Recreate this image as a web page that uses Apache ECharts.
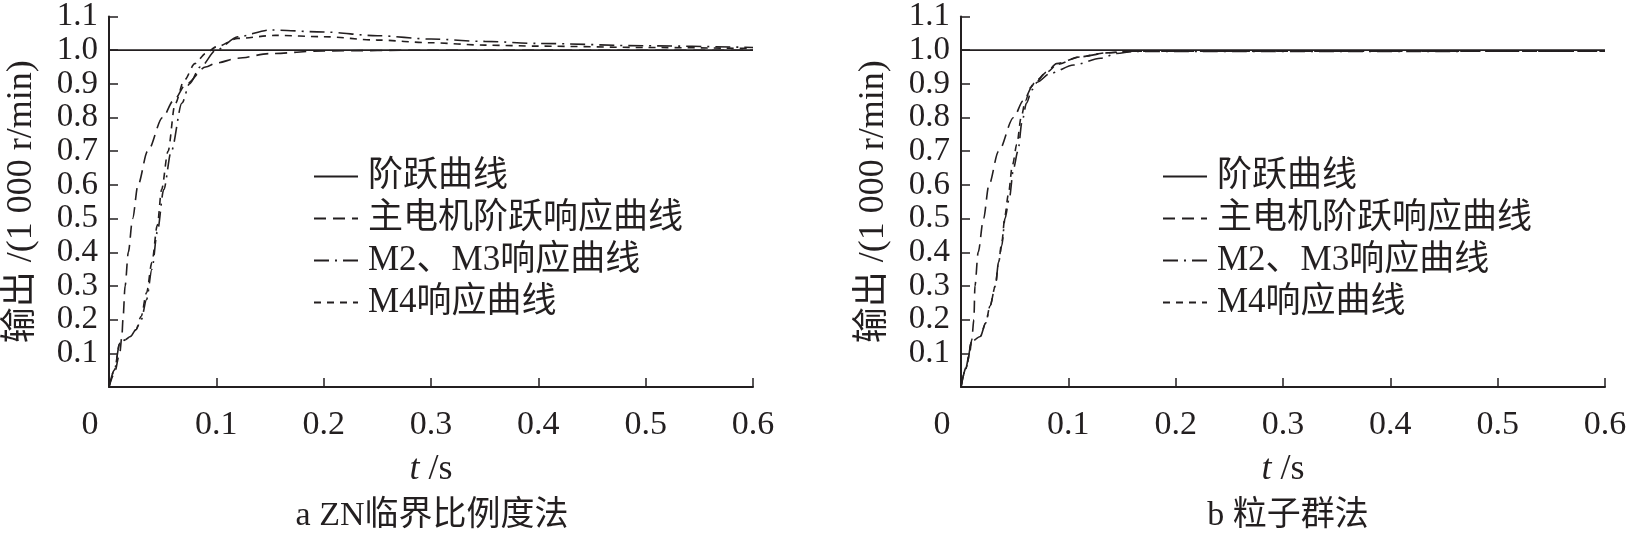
<!DOCTYPE html>
<html><head><meta charset="utf-8">
<script src="https://cdn.jsdelivr.net/npm/echarts@6/dist/echarts.min.js"></script>
<style>html,body{margin:0;padding:0;background:#fff}#c{width:1633px;height:533px}</style>
</head><body><div id="c"></div>
<script>
// ---- data ----
const xTicks = [0, 0.1, 0.2, 0.3, 0.4, 0.5, 0.6];
const seriesNames = ['阶跃曲线', '主电机阶跃响应曲线', 'M2、M3响应曲线', 'M4响应曲线'];
const panelTitles = ['a ZN临界比例度法', 'b 粒子群法'];
const stepLine = [[0, 1], [0.6, 1]];
// panel a: ZN
const aMain = [[0,0],[0.005,0.04],[0.01,0.1],[0.012,0.15],[0.013,0.2],[0.015,0.3],[0.018,0.4],[0.022,0.5],[0.027,0.6],[0.036,0.7],[0.05,0.8],[0.06,0.85],[0.072,0.9],[0.09,0.95],[0.1,0.962],[0.12,0.976],[0.15,0.99],[0.2,0.998],[0.3,1.0],[0.6,1.0]];
const aM23 = [[0,0],[0.005,0.05],[0.01,0.13],[0.015,0.14],[0.02,0.15],[0.025,0.17],[0.03,0.2],[0.035,0.26],[0.04,0.35],[0.045,0.46],[0.051,0.586],[0.058,0.7],[0.068,0.843],[0.075,0.9],[0.085,0.95],[0.1,1.0],[0.12,1.04],[0.15,1.06],[0.2,1.054],[0.25,1.043],[0.3,1.033],[0.35,1.026],[0.4,1.02],[0.5,1.013],[0.6,1.008]];
const aM4 = [[0,0],[0.005,0.05],[0.01,0.13],[0.015,0.14],[0.02,0.15],[0.025,0.17],[0.03,0.21],[0.035,0.28],[0.04,0.37],[0.045,0.48],[0.049,0.586],[0.055,0.7],[0.0615,0.84],[0.07,0.91],[0.08,0.96],[0.09,0.99],[0.1,1.01],[0.12,1.035],[0.155,1.044],[0.2,1.04],[0.25,1.03],[0.3,1.022],[0.35,1.015],[0.4,1.012],[0.5,1.008],[0.6,1.005]];
// panel b: PSO
const bMain = [[0,0],[0.004,0.05],[0.008,0.1],[0.01,0.14],[0.012,0.2],[0.013,0.3],[0.016,0.4],[0.021,0.5],[0.026,0.6],[0.035,0.7],[0.049,0.8],[0.058,0.85],[0.068,0.9],[0.08,0.935],[0.089,0.96],[0.111,0.98],[0.136,0.992],[0.16,0.997],[0.6,0.997]];
const bM23 = [[0,0],[0.005,0.06],[0.01,0.136],[0.018,0.15],[0.023,0.19],[0.027,0.24],[0.032,0.3],[0.035,0.37],[0.038,0.42],[0.041,0.5],[0.045,0.56],[0.049,0.65],[0.053,0.7],[0.057,0.79],[0.061,0.843],[0.066,0.882],[0.071,0.905],[0.083,0.931],[0.105,0.956],[0.13,0.976],[0.145,0.99],[0.16,0.996],[0.6,0.997]];
const bM4 = [[0,0],[0.005,0.06],[0.01,0.136],[0.018,0.15],[0.023,0.19],[0.027,0.24],[0.032,0.3],[0.035,0.37],[0.038,0.43],[0.041,0.51],[0.044,0.57],[0.048,0.66],[0.052,0.72],[0.056,0.8],[0.06,0.85],[0.065,0.89],[0.07,0.91],[0.08,0.935],[0.09,0.958],[0.11,0.98],[0.135,0.992],[0.16,0.997],[0.6,0.997]];

// ---- styling ----
const INK = '#231f20';
const FONT = "'Liberation Serif','Noto Sans CJK SC',serif";
const FS = 34;
const FSY = 33;
const dashMain = [12, 7];
const dashDot = [15, 6, 2, 6];
const dotted = [7, 6];

const grids = [
  { left: 109, top: 13, width: 644, height: 374 },
  { left: 961, top: 13, width: 644, height: 374 }
];
function xAxis(i) {
  return {
    type: 'value', gridIndex: i, min: 0, max: 0.6, interval: 0.1,
    axisLine: { lineStyle: { color: INK, width: 2 } },
    axisTick: { inside: true, length: 9, lineStyle: { color: INK, width: 1.5 } },
    splitLine: { show: false },
    axisLabel: {
      color: INK, fontFamily: FONT, fontSize: FS, margin: 21,
      showMinLabel: true, showMaxLabel: true,
      formatter: v => v === 0 ? '{z|0}' : v.toFixed(1),
      rich: { z: { fontFamily: FONT, fontSize: FS, color: INK, padding: [0, 38, 0, 0] } }
    },
    name: '{i|t} /s', nameLocation: 'middle', nameGap: 65,
    nameTextStyle: { color: INK, fontFamily: FONT, fontSize: 36,
      rich: { i: { fontStyle: 'italic', fontFamily: FONT, fontSize: 36, color: INK } } }
  };
}
function yAxis(i) {
  return {
    type: 'value', gridIndex: i, min: 0, max: 1.1, interval: 0.1,
    axisLine: { show: true, lineStyle: { color: INK, width: 2 } },
    axisTick: { show: true, inside: true, length: 9, lineStyle: { color: INK, width: 1.5 } },
    splitLine: { show: false },
    axisLabel: { color: INK, fontFamily: FONT, fontSize: FSY, margin: 11,
      formatter: v => v === 0 ? '' : v.toFixed(1) },
    name: '输出 /(1 000 r/min)', nameLocation: 'middle', nameGap: 69,
    nameTextStyle: { color: INK, fontFamily: FONT, fontSize: 36 }
  };
}
function lineSeries(name, data, gi, dash, w) {
  return {
    name, type: 'line', data, xAxisIndex: gi, yAxisIndex: gi,
    symbol: 'none', smooth: 0.3, smoothMonotone: 'x', animation: false,
    lineStyle: { color: INK, width: w || 1.6, type: dash || 'solid' },
    itemStyle: { color: INK }
  };
}
const series = [];
[[aMain, aM23, aM4], [bMain, bM23, bM4]].forEach((set, gi) => {
  series.push(lineSeries(seriesNames[0], stepLine, gi, 'solid', 1.8));
  series.push(lineSeries(seriesNames[1], set[0], gi, dashMain));
  series.push(lineSeries(seriesNames[2], set[1], gi, dashDot));
  series.push(lineSeries(seriesNames[3], set[2], gi, dotted));
});
function legend(left) {
  return {
    data: seriesNames, left, top: 154, orient: 'vertical', itemGap: 7,
    itemWidth: 44, itemHeight: 14, selectedMode: false,
    itemStyle: { color: 'rgba(0,0,0,0)', borderWidth: 0, opacity: 0 },
    textStyle: { color: INK, fontFamily: FONT, fontSize: 35, padding: [0, 0, 0, 5] }
  };
}
const chart = echarts.init(document.getElementById('c'), null, { renderer: 'canvas' });
chart.setOption({
  animation: false,
  backgroundColor: '#fff',
  grid: grids,
  xAxis: [xAxis(0), xAxis(1)],
  yAxis: [yAxis(0), yAxis(1)],
  legend: [legend(308), legend(1157)],
  title: [
    { text: panelTitles[0], left: 427, top: 494, textAlign: 'center',
      textStyle: { color: INK, fontFamily: FONT, fontSize: FS, fontWeight: 'normal' } },
    { text: panelTitles[1], left: 1283, top: 494, textAlign: 'center',
      textStyle: { color: INK, fontFamily: FONT, fontSize: FS, fontWeight: 'normal' } }
  ],
  series
});
</script></body></html>
